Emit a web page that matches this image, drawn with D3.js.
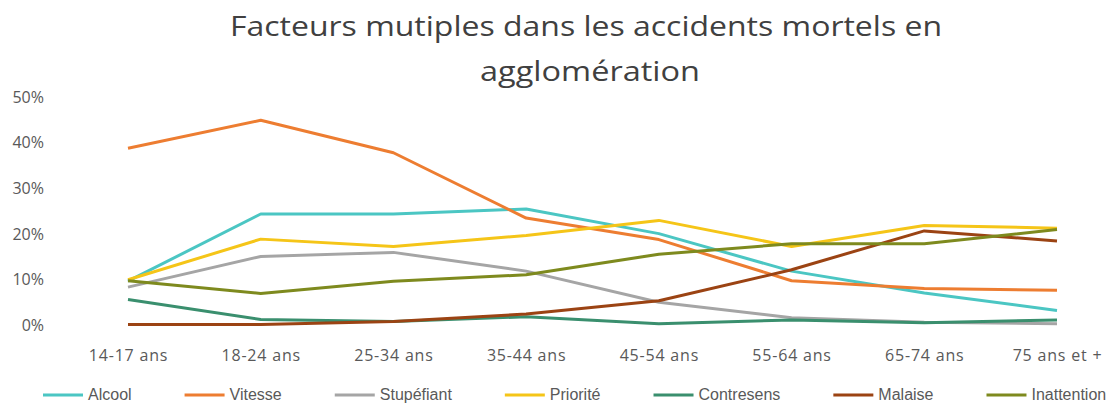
<!DOCTYPE html>
<html>
<head>
<meta charset="utf-8">
<script src="https://cdn.jsdelivr.net/npm/d3@7"></script>
<style>
  body { margin: 0; background: #fff; }
  svg { display: block; }
</style>
</head>
<body>
<svg id="chart" width="1116" height="403"></svg>
<script>
// age groups on the x axis
var categories = ["14-17 ans", "18-24 ans", "25-34 ans", "35-44 ans", "45-54 ans", "55-64 ans", "65-74 ans", "75 ans et +"];

// share of fatal accidents per factor (fractions)
var alcool      = [0.097, 0.244, 0.244, 0.255, 0.201, 0.119, 0.071, 0.033];
var vitesse     = [0.388, 0.449, 0.378, 0.235, 0.188, 0.098, 0.081, 0.077];
var stupefiant  = [0.084, 0.151, 0.160, 0.119, 0.051, 0.017, 0.007, 0.004];
var priorite    = [0.100, 0.189, 0.173, 0.197, 0.230, 0.173, 0.219, 0.213];
var contresens  = [0.057, 0.013, 0.009, 0.019, 0.004, 0.012, 0.006, 0.012];
var malaise     = [0.002, 0.002, 0.009, 0.025, 0.054, 0.122, 0.207, 0.185];
var inattention = [0.098, 0.070, 0.097, 0.111, 0.156, 0.179, 0.179, 0.210];

var seriesNames = ["Alcool", "Vitesse", "Stupéfiant", "Priorité", "Contresens", "Malaise", "Inattention"];
var seriesValues = [alcool, vitesse, stupefiant, priorite, contresens, malaise, inattention];
var seriesColors = ["#4bc6c3", "#ed7d31", "#a5a5a5", "#f5c518", "#3a8f6e", "#9b4313", "#7e8a1e"];

var yTicks = [0, 0.1, 0.2, 0.3, 0.4, 0.5];

var svg = d3.select("#chart");

// title, two lines (source glyphs are wide, so stretch to the measured width)
var titleFont = { family: "'Open Sans', sans-serif", size: "28px" };
svg.append("text")
    .attr("x", 586).attr("y", 36)
    .attr("text-anchor", "middle")
    .attr("font-family", titleFont.family)
    .attr("font-size", titleFont.size)
    .attr("fill", "#404040")
    .attr("textLength", 712)
    .attr("lengthAdjust", "spacingAndGlyphs")
    .text("Facteurs mutiples dans les accidents mortels en");
svg.append("text")
    .attr("x", 590).attr("y", 81)
    .attr("text-anchor", "middle")
    .attr("font-family", titleFont.family)
    .attr("font-size", titleFont.size)
    .attr("fill", "#404040")
    .attr("textLength", 220)
    .attr("lengthAdjust", "spacingAndGlyphs")
    .text("agglomération");

var x = d3.scalePoint()
    .domain(categories)
    .range([128, 1057]);

var y = d3.scaleLinear()
    .domain([0, 0.5])
    .range([325.5, 97]);

// y axis, labels only
var yAxis = svg.append("g")
    .attr("transform", "translate(44,0)")
    .call(d3.axisLeft(y).tickValues(yTicks).tickFormat(d3.format(".0%")).tickSize(0).tickPadding(0));
yAxis.select(".domain").remove();
yAxis.selectAll("text")
    .attr("font-family", "'Open Sans', sans-serif")
    .attr("font-size", "16px")
    .attr("fill", "#595959");

// x axis, labels only
var xAxis = svg.append("g")
    .attr("transform", "translate(0,350)")
    .call(d3.axisBottom(x).tickSize(0).tickPadding(0));
xAxis.select(".domain").remove();
xAxis.selectAll("text")
    .attr("font-family", "'Open Sans', sans-serif")
    .attr("font-size", "16px")
    .attr("letter-spacing", "0.8px")
    .attr("fill", "#595959");

var line = d3.line()
    .x(function(d, i) { return x(categories[i]); })
    .y(function(d) { return y(d); });

svg.append("g").selectAll("path")
    .data(seriesValues)
    .join("path")
    .attr("d", line)
    .attr("fill", "none")
    .attr("stroke", function(d, i) { return seriesColors[i]; })
    .attr("stroke-width", 3)
    .attr("stroke-linejoin", "round");

// legend, laid out from the text widths
var legend = svg.append("g").attr("transform", "translate(0,395)");
var lx = 43;
seriesNames.forEach(function(name, i) {
    var item = legend.append("g");
    item.append("line")
        .attr("x1", lx).attr("x2", lx + 40)
        .attr("y1", 0).attr("y2", 0)
        .attr("stroke", seriesColors[i])
        .attr("stroke-width", 3);
    var t = item.append("text")
        .attr("x", lx + 45)
        .attr("y", 5)
        .attr("font-family", "'Liberation Sans', Arial, sans-serif")
        .attr("font-size", "16px")
        .attr("fill", "#595959")
        .text(name);
    lx += 45 + t.node().getComputedTextLength() + 53;
});
</script>
</body>
</html>
